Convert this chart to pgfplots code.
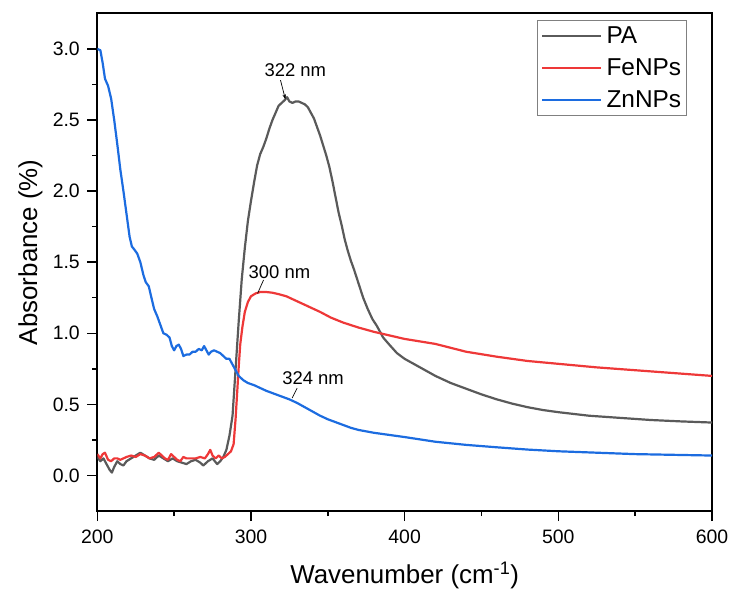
\documentclass[border=0pt]{standalone}
\usepackage{fontspec}
\setmainfont{Liberation Sans}
\usepackage{pgfplots}
\pgfplotsset{compat=1.18}
\usetikzlibrary{arrows.meta}
\definecolor{pagray}{RGB}{90,90,90}
\definecolor{fered}{RGB}{238,56,56}
\definecolor{znblue}{RGB}{28,108,224}
\begin{document}
\begin{tikzpicture}
\begin{axis}[
  name=ax,
  scale only axis,
  width=614.7bp, height=497.7bp,
  xmin=200, xmax=600, ymin=-0.25, ymax=3.25,
  xtick={200,300,400,500,600},
  ytick={0,0.5,1,1.5,2,2.5,3},
  minor x tick num=1, minor y tick num=1,
  tick pos=left,
  tick align=outside,
  major tick length=10bp, minor tick length=5bp,
  every tick/.style={black, line width=1.4bp},
  axis line style={black, line width=1.8bp},
  /pgf/number format/assume math mode=true,
  yticklabel style={xshift=-4bp, /pgf/number format/.cd, fixed, fixed zerofill, precision=1},
  xticklabel style={yshift=-5bp, /pgf/number format/.cd, fixed, precision=0, set thousands separator={}},
  ticklabel style={font=\fontsize{19.5}{21}\selectfont},
  xlabel={Wavenumber (cm\textsuperscript{-1})},
  ylabel={Absorbance (\%)},
  every axis x label/.style={at={(axis description cs:0.5,-0.1286)}, anchor=center, font=\fontsize{26}{29}\selectfont},
  every axis y label/.style={at={(axis description cs:-0.109,0.52)}, anchor=center, rotate=90, font=\fontsize{26}{29}\selectfont},
  legend style={at={(axis description cs:1,1)}, anchor=north east, xshift=-25bp, yshift=-7bp,
    draw=gray, line width=0.8bp, font=\fontsize{24.5}{28}\selectfont, inner xsep=3.5bp, inner ysep=4.5bp,
    row sep=9.5bp, column sep=2bp},
  legend cell align=left,
  legend image code/.code={\draw[#1, line width=2.2bp] (0bp,0bp) -- (59bp,0bp);},
  every axis plot/.append style={line width=2.2bp, line join=round},
]
\addplot[pagray] coordinates {
(200,0.13)(202,0.10)(204,0.12)(206,0.08)(208,0.04)(209.5,0.02)(211,0.06)(213,0.10)(215,0.08)(217,0.07)
(219,0.10)(222,0.12)(225,0.14)(228,0.16)(231,0.14)(234,0.12)(237,0.11)(240,0.14)(243,0.12)(246,0.10)
(249,0.12)(252,0.10)(255,0.09)(258,0.08)(261,0.10)(264,0.11)(267,0.09)(269,0.07)(272,0.10)(275,0.12)
(278,0.08)(280,0.10)(282,0.13)(284,0.18)(286,0.28)(288,0.42)(290,0.75)(292,1.08)(294,1.38)(296,1.60)
(298,1.79)(300,1.93)(302,2.06)(304,2.18)(306,2.26)(308,2.31)(310,2.37)(312,2.44)(314,2.50)(316,2.55)
(318,2.60)(320,2.62)(322,2.64)(323.5,2.66)(325,2.63)(327,2.62)(329,2.63)(331,2.63)(333,2.62)(335,2.61)
(337,2.59)(339,2.55)(341,2.51)(343,2.45)(345,2.39)(347,2.32)(349,2.25)(351,2.17)(353,2.07)(355,1.96)
(357,1.85)(359,1.76)(361,1.66)(363,1.58)(365,1.51)(367,1.45)(370,1.35)(373,1.25)(376,1.17)(379,1.10)
(382,1.05)(386,0.97)(390,0.92)(395,0.86)(400,0.82)(410,0.76)(420,0.70)(430,0.65)(440,0.61)(450,0.57)
(460,0.535)(470,0.505)(480,0.48)(490,0.46)(500,0.445)(520,0.42)(540,0.405)(560,0.39)(580,0.38)(600,0.372)
};
\addlegendentry{PA}
\addplot[fered] coordinates {
(200,0.15)(202,0.12)(203.5,0.15)(205,0.16)(207,0.11)(209,0.10)(211,0.12)(213,0.12)(215,0.11)(217,0.12)
(219,0.13)(222,0.14)(225,0.13)(228,0.15)(231,0.14)(234,0.12)(237,0.13)(240,0.16)(242,0.14)(244,0.12)
(246,0.11)(248,0.15)(250,0.13)(252,0.11)(254,0.10)(256,0.13)(258,0.12)(261,0.12)(264,0.12)(267,0.13)
(270,0.12)(272,0.15)(273.5,0.18)(275,0.14)(277,0.12)(279,0.14)(281,0.12)(283,0.13)(285,0.15)(287,0.17)
(288.7,0.22)(290,0.40)(291,0.58)(292,0.76)(293,0.92)(294.5,1.05)(296,1.15)(298,1.22)(300,1.26)(303,1.28)
(306,1.29)(310,1.29)(314,1.285)(318,1.275)(323,1.26)(330,1.225)(338,1.185)(345,1.15)(352,1.11)(360,1.075)
(370,1.04)(380,1.01)(390,0.985)(400,0.96)(420,0.925)(440,0.87)(460,0.835)(480,0.805)(500,0.785)(525,0.76)
(550,0.74)(575,0.72)(600,0.70)
};
\addlegendentry{FeNPs}
\addplot[znblue] coordinates {
(200,3.00)(202,2.99)(203.5,2.90)(205,2.79)(207,2.74)(209,2.65)(211,2.50)(213,2.33)(215,2.15)(217,2.00)
(219,1.84)(221,1.68)(222.5,1.61)(224,1.59)(226,1.56)(228,1.50)(230,1.41)(231.5,1.36)(233.5,1.33)(235,1.26)
(237,1.17)(239,1.12)(241,1.06)(243,1.00)(245,0.99)(247,0.97)(248.5,0.91)(250,0.88)(251.5,0.91)(253,0.92)
(254.5,0.89)(256,0.84)(258,0.85)(260,0.85)(262,0.87)(264,0.87)(266,0.89)(268,0.88)(269.5,0.91)(271,0.88)
(272.5,0.85)(274,0.87)(276,0.88)(278,0.87)(280,0.86)(282,0.84)(284,0.82)(286,0.82)(288,0.78)(290,0.74)
(292,0.70)(295,0.67)(298,0.65)(302,0.635)(306,0.615)(310,0.595)(315,0.575)(320,0.555)(325,0.535)(330,0.51)
(335,0.48)(340,0.45)(345,0.42)(350,0.395)(355,0.375)(360,0.355)(365,0.335)(370,0.32)(380,0.30)(390,0.285)
(400,0.27)(420,0.237)(440,0.215)(460,0.198)(480,0.182)(500,0.17)(525,0.16)(550,0.15)(575,0.145)(600,0.14)
};
\addlegendentry{ZnNPs}
\node[font=\fontsize{18.5}{20}\selectfont] at (axis cs:328.9,2.85) {322 nm};
\draw[-{Stealth[length=5bp,width=3.5bp]}, line width=0.7bp] (axis cs:319.2,2.78) -- (axis cs:322.4,2.645);
\node[font=\fontsize{18.5}{20}\selectfont] at (axis cs:318.5,1.43) {300 nm};
\draw[line width=0.7bp] (axis cs:308.2,1.375) -- (axis cs:304.3,1.28);
\node[font=\fontsize{18.5}{20}\selectfont] at (axis cs:340.4,0.687) {324 nm};
\draw[line width=0.7bp] (axis cs:330,0.614) -- (axis cs:326.8,0.544);
\end{axis}
\path (ax.south west) ++(-97.3bp,-79bp);
\path (ax.north east) ++(20bp,13.3bp);
\end{tikzpicture}
\end{document}
